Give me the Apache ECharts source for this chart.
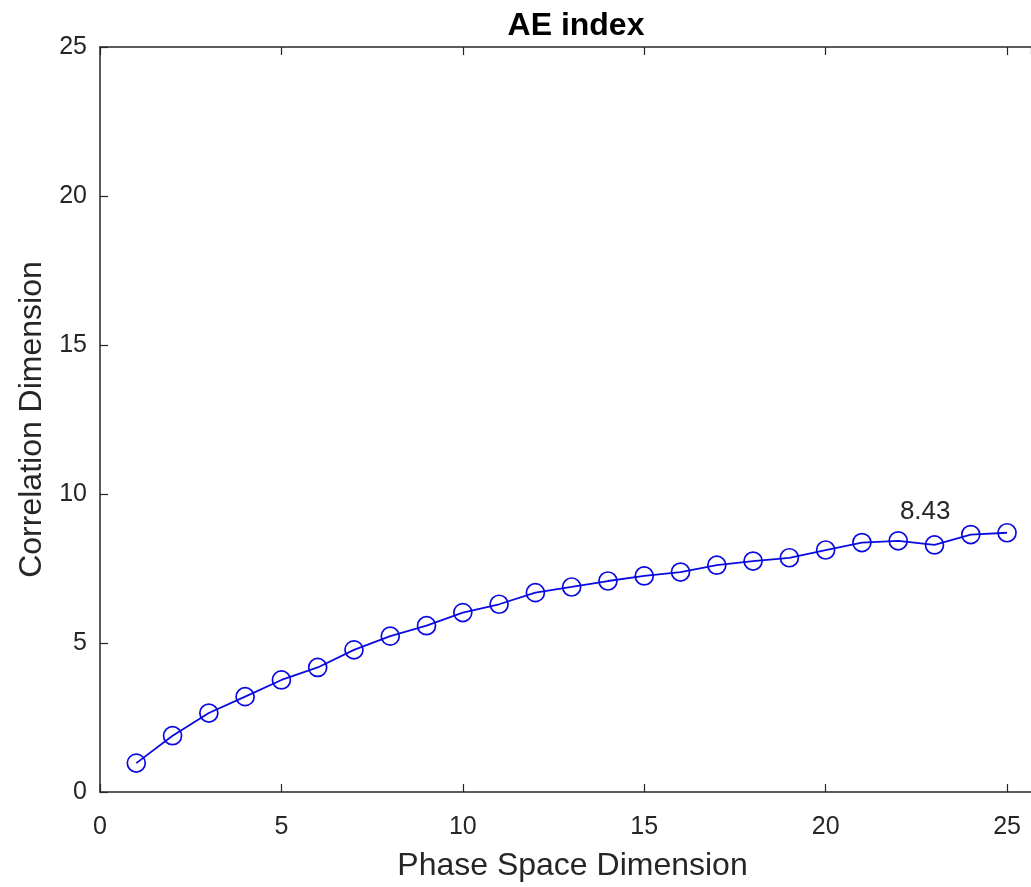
<!DOCTYPE html>
<html>
<head>
    <meta charset="UTF-8">
    <script src="https://cdn.jsdelivr.net/npm/echarts@6/dist/echarts.min.js"></script>
    <style type="text/css">
        body { margin: 0; background: #fff; }
        #chart { width: 1031px; height: 887px; }
    </style>
</head>
<body>
<div id="chart"></div>
<script type="text/javascript">
    // embedding dimension vs correlation dimension
    var dims = [1, 2, 3, 4, 5, 6, 7, 8, 9, 10, 11, 12, 13, 14, 15, 16, 17, 18, 19, 20, 21, 22, 23, 24, 25];
    var corrDim = [0.97, 1.89, 2.65, 3.20, 3.76, 4.18, 4.77, 5.23, 5.58, 6.02, 6.30, 6.69, 6.88, 7.08, 7.25,
        7.38, 7.61, 7.75, 7.86, 8.12, 8.37, 8.43, 8.29, 8.64, 8.70];
    var labelledDim = 22;
    var labelText = '8.43';

    var ink = '#262626';
    var blue = '#0a0ae0';
    var font = 'Liberation Sans, Arial, sans-serif';

    var points = dims.map(function (d, i) {
        var p = { value: [d, corrDim[i]] };
        if (d === labelledDim) {
            p.label = {
                show: true, formatter: labelText, position: 'top',
                offset: [27, -1], color: ink, fontSize: 26, fontFamily: font
            };
        }
        return p;
    });

    // the axes box runs past the right edge of the picture
    var xMax = 25.66;

    var chart = echarts.init(document.getElementById('chart'));
    chart.setOption({
        backgroundColor: '#fff',
        animation: false,
        title: {
            text: 'AE index',
            left: 571,
            top: 5,
            textAlign: 'center',
            textStyle: { color: '#000', fontSize: 32, fontWeight: 'bold', fontFamily: font }
        },
        grid: { left: 100, top: 47, right: 0, height: 746 },
        xAxis: [{
            type: 'value', min: 0, max: xMax, interval: 5,
            name: 'Phase Space Dimension', nameLocation: 'middle', nameGap: 58,
            nameTextStyle: { color: ink, fontSize: 32, fontFamily: font, padding: [0, 0, 0, 14] },
            axisLine: { show: true, lineStyle: { color: ink, width: 1.5 } },
            axisTick: { show: true, inside: true, length: 8, lineStyle: { color: ink, width: 1.2 } },
            axisLabel: { color: ink, fontSize: 25, fontFamily: font, margin: 23, showMaxLabel: false },
            splitLine: { show: false }
        }, {
            type: 'value', position: 'top', min: 0, max: xMax, interval: 5,
            axisLine: { show: true, lineStyle: { color: ink, width: 1.5 } },
            axisTick: { show: true, inside: true, length: 8, lineStyle: { color: ink, width: 1.2 } },
            axisLabel: { show: false },
            splitLine: { show: false }
        }],
        yAxis: {
            type: 'value', min: 0, max: 25, interval: 5,
            name: 'Correlation Dimension', nameLocation: 'middle', nameGap: 50,
            nameTextStyle: { color: ink, fontSize: 32, fontFamily: font },
            axisLine: { show: true, lineStyle: { color: ink, width: 1.5 } },
            axisTick: { show: true, inside: true, length: 8, lineStyle: { color: ink, width: 1.2 } },
            axisLabel: { color: ink, fontSize: 25, fontFamily: font, margin: 13 },
            splitLine: { show: false }
        },
        series: [{
            type: 'line',
            data: points,
            symbol: 'circle',
            symbolSize: 18,
            lineStyle: { color: blue, width: 1.8 },
            itemStyle: { color: 'rgba(0,0,0,0)', borderColor: blue, borderWidth: 1.7 }
        }]
    });
</script>
</body>
</html>
